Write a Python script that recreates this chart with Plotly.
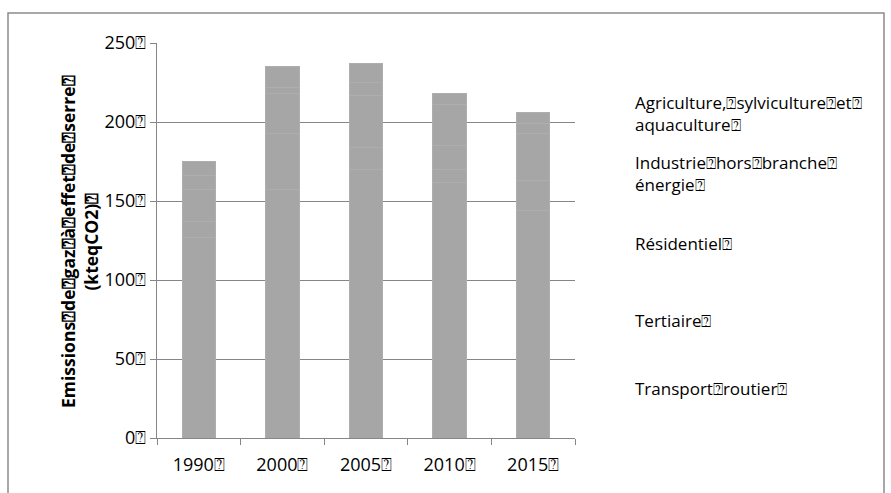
import plotly.graph_objects as go

Q = "\u2370"  # boxed question mark glyph seen in the reference (missing-glyph box)

years = ["1990", "2000", "2005", "2010", "2015"]
series_names = [
    "Transport" + Q + "routier" + Q,
    "Tertiaire" + Q,
    "Résidentiel" + Q,
    "Industrie" + Q + "hors" + Q + "branche" + Q + "<br>énergie" + Q,
    "Agriculture," + Q + "sylviculture" + Q + "et" + Q + "<br>aquaculture" + Q,
]
transport = [127, 157, 170, 162, 144]
tertiaire = [10, 36, 14, 8, 19]
residentiel = [20, 25, 33, 15, 30]
industrie = [9, 4, 8, 26, 6]
agriculture = [9, 13, 12, 7, 7]
series_values = [transport, tertiaire, residentiel, industrie, agriculture]

y_ticks = [0, 50, 100, 150, 200, 250]
y_title = ("Emissions" + Q + "de" + Q + "gaz" + Q + "à" + Q + "effet" + Q + "de" + Q + "serre" + Q
           + "<br>(kteqCO2)" + Q)

FONT = "Open Sans"
GRID = "#868686"

# pixel layout
W, H = 891, 493
L, R, T, B = 157, 575, 43, 438
pw, ph = R - L, B - T

def px_x(x):
    return (x - L) / pw

def px_y(y):
    return (B - y) / ph

fig = go.Figure()
for name, vals in zip(series_names, series_values):
    fig.add_trace(go.Bar(
        x=years, y=vals, name=name,
        marker=dict(color="#A6A6A6", line=dict(color="#AEAEAE", width=1)),
        showlegend=False,
    ))

# legend text (markers are not visible in the reference); centre of each entry in px
legend_mid = {0: 388, 1: 320, 2: 243, 3: 173.5, 4: 113.5}
annotations = []
for i, name in enumerate(series_names):
    annotations.append(dict(
        x=px_x(633), y=px_y(legend_mid[i]), xref="paper", yref="paper",
        text=name, showarrow=False, xanchor="left", yanchor="middle", align="left",
        font=dict(family=FONT, size=17, color="#000000"),
    ))

annotations.append(dict(
    x=px_x(79), y=px_y(242), xref="paper", yref="paper",
    text="<b>" + y_title + "</b>", showarrow=False, textangle=-90,
    xanchor="center", yanchor="middle", align="center",
    font=dict(family=FONT, size=17.5, color="#000000"),
))

fig.update_layout(
    width=W, height=H,
    margin=dict(l=L, r=W - R, t=T, b=H - B, pad=0),
    paper_bgcolor="white", plot_bgcolor="white",
    barmode="stack", bargap=0.6,
    annotations=annotations,
    shapes=[dict(type="rect", xref="paper", yref="paper",
                 x0=px_x(8), x1=px_x(884), y0=px_y(510), y1=px_y(13),
                 line=dict(color="#8C8C8C", width=1.5), layer="below")],
    font=dict(family=FONT, color="#000000"),
)
fig.update_xaxes(
    type="category", showgrid=False, showline=True, linecolor=GRID, linewidth=1,
    ticks="outside", tickson="boundaries", ticklen=6, tickcolor=GRID,
    tickvals=years, ticktext=[y + Q for y in years],
    tickfont=dict(family=FONT, size=18, color="#000000"),
    ticklabelstandoff=10,
)
fig.update_yaxes(
    range=[0, 250], tickvals=y_ticks, ticktext=[str(v) + Q for v in y_ticks],
    showgrid=True, gridcolor=GRID, gridwidth=1,
    showline=True, linecolor=GRID, linewidth=1,
    ticks="outside", ticklen=6, tickcolor=GRID,
    tickfont=dict(family=FONT, size=18, color="#000000"),
    zeroline=False,
)

fig.write_html("out.html")
